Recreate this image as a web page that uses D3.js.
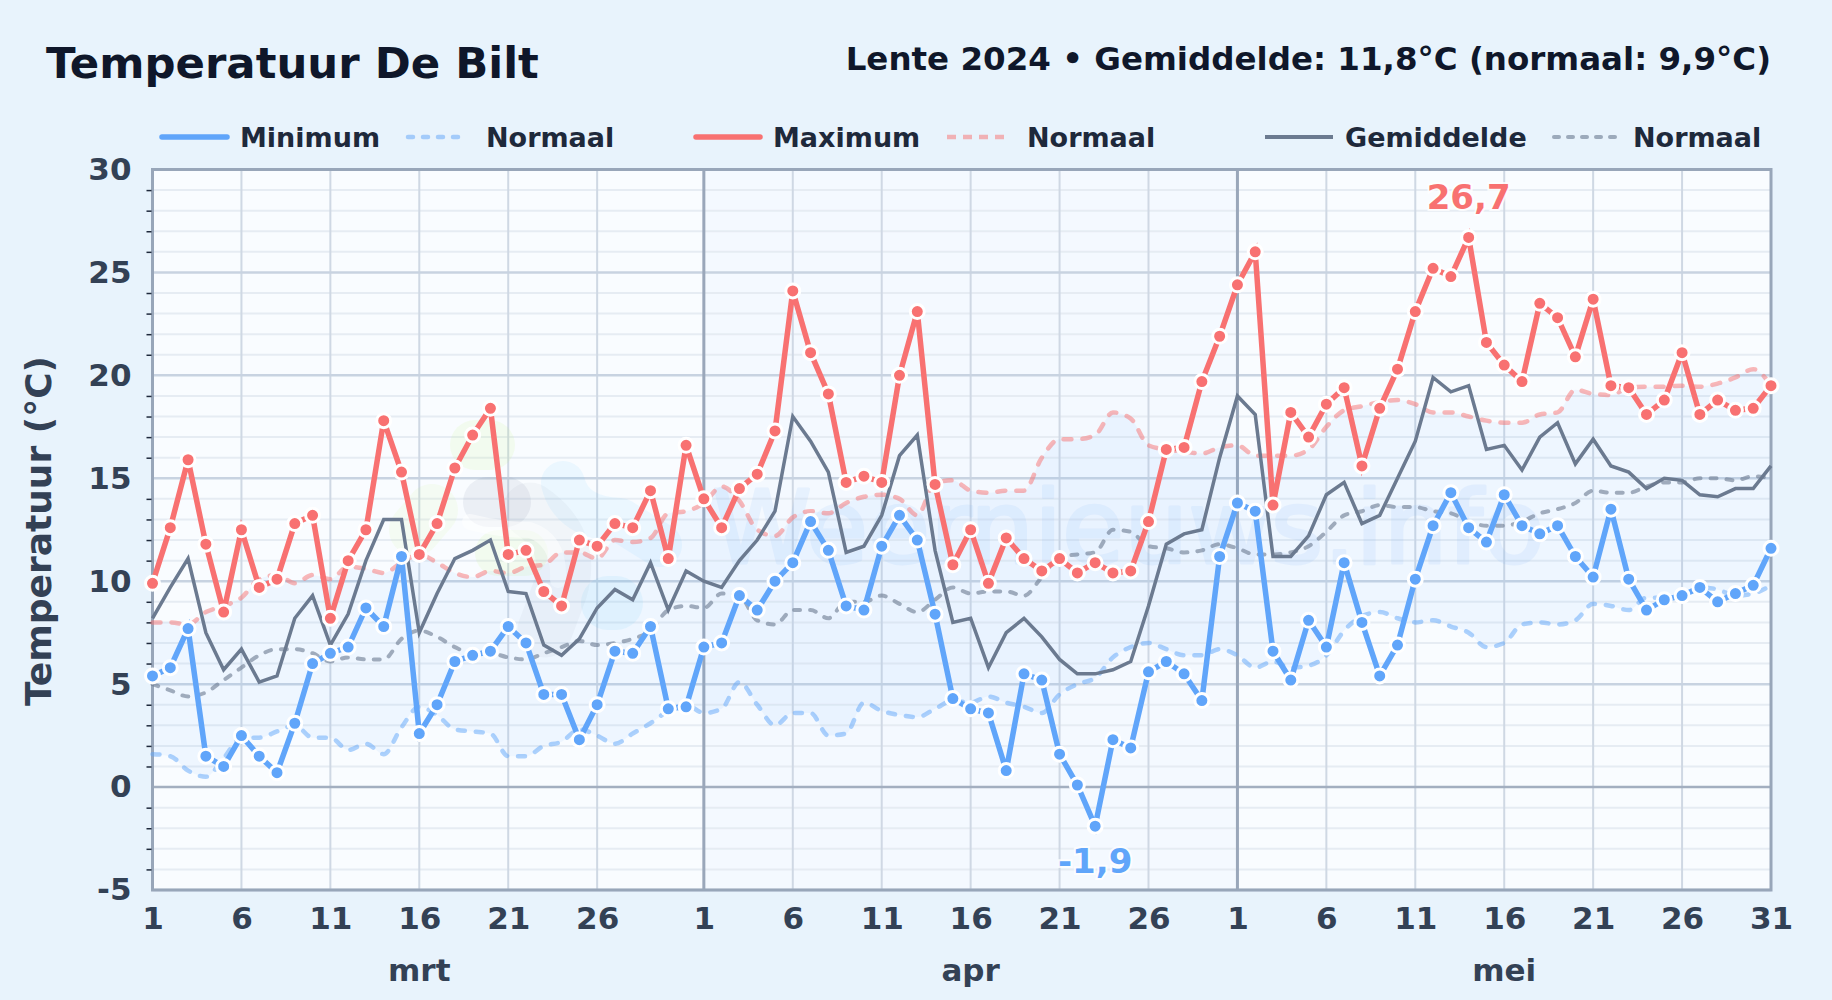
<!DOCTYPE html>
<html>
<head>
<meta charset="utf-8">
<script src="https://cdn.jsdelivr.net/npm/d3@7"></script>
<style>
  html, body { margin: 0; padding: 0; background: #e8f3fc; }
  svg { display: block; font-family: "DejaVu Sans", sans-serif; font-weight: 700; }
</style>
</head>
<body>
<svg id="chart" width="1832" height="1000"></svg>
<script>
// daily values 1 mrt - 31 mei 2024
const minTemp = [5.4,5.8,7.7,1.5,1.0,2.5,1.5,0.7,3.1,6.0,6.5,6.8,8.7,7.8,11.2,2.6,4.0,6.1,6.4,6.6,7.8,7.0,4.5,4.5,2.3,4.0,6.6,6.5,7.8,3.8,3.9,
  6.8,7.0,9.3,8.6,10.0,10.9,12.9,11.5,8.8,8.6,11.7,13.2,12.0,8.4,4.3,3.8,3.6,0.8,5.5,5.2,1.6,0.1,-1.9,2.3,1.9,5.6,6.1,5.5,4.2,11.2,
  13.8,13.4,6.6,5.2,8.1,6.8,10.9,8.0,5.4,6.9,10.1,12.7,14.3,12.6,11.9,14.2,12.7,12.3,12.7,11.2,10.2,13.5,10.1,8.6,9.1,9.3,9.7,9.0,9.4,9.8,11.6]
const maxTemp = [9.9,12.6,15.9,11.8,8.5,12.5,9.7,10.1,12.8,13.2,8.2,11.0,12.5,17.8,15.3,11.3,12.8,15.5,17.1,18.4,11.3,11.5,9.5,8.8,12.0,11.7,12.8,12.6,14.4,11.1,16.6,
  14.0,12.6,14.5,15.2,17.3,24.1,21.1,19.1,14.8,15.1,14.8,20.0,23.1,14.7,10.8,12.5,9.9,12.1,11.1,10.5,11.1,10.4,10.9,10.4,10.5,12.9,16.4,16.5,19.7,21.9,
  24.4,26.0,13.7,18.2,17.0,18.6,19.4,15.6,18.4,20.3,23.1,25.2,24.8,26.7,21.6,20.5,19.7,23.5,22.8,20.9,23.7,19.5,19.4,18.1,18.8,21.1,18.1,18.8,18.3,18.4,19.5]
const avgTemp = [8.2,9.7,11.1,7.5,5.7,6.7,5.1,5.4,8.2,9.3,6.9,8.4,11.0,13.0,13.0,7.5,9.4,11.1,11.5,12.0,9.5,9.4,6.9,6.4,7.2,8.7,9.6,9.1,10.9,8.6,10.5,
  10.0,9.7,11.0,12.0,13.4,18.0,16.8,15.3,11.4,11.7,13.2,16.1,17.1,11.5,8.0,8.2,5.8,7.5,8.2,7.3,6.2,5.5,5.5,5.7,6.1,8.8,11.8,12.3,12.5,16.0,
  19.0,18.1,11.2,11.2,12.2,14.2,14.8,12.8,13.2,15.0,16.8,19.9,19.2,19.5,16.4,16.6,15.4,17.0,17.7,15.7,16.9,15.6,15.3,14.5,15.0,14.9,14.2,14.1,14.5,14.5,15.6]
const normMin = [1.6,1.5,0.8,0.5,1.4,2.4,2.4,2.7,3.0,2.4,2.4,1.8,2.1,1.6,2.9,3.9,3.5,2.8,2.7,2.6,1.5,1.5,2.0,2.2,2.8,2.5,2.1,2.6,3.1,3.7,4.0,
  3.6,3.8,5.1,4.0,3.0,3.6,3.6,2.5,2.6,4.1,3.7,3.5,3.4,3.8,4.2,4.1,4.4,4.1,3.9,3.6,4.5,5.0,5.3,6.3,6.8,7.0,6.7,6.4,6.4,6.7,
  6.4,5.8,6.1,5.8,5.9,6.4,7.6,8.3,8.5,8.2,8.0,8.1,7.8,7.5,6.8,7.0,7.9,8.0,7.9,8.1,8.9,8.8,8.6,9.2,9.2,9.3,9.7,9.6,9.3,9.4,9.8]
const normMax = [8.0,8.0,7.9,8.5,8.8,9.2,10.1,10.3,9.9,10.3,10.1,10.7,10.6,10.4,10.9,11.3,10.9,10.4,10.2,10.5,10.4,10.7,10.8,11.4,11.4,11.1,12.0,11.9,12.1,13.3,13.4,
  13.8,14.6,13.9,12.5,12.2,13.1,13.4,13.3,13.8,14.1,14.2,14.0,13.2,14.8,14.9,14.4,14.3,14.4,14.4,16.0,16.9,16.9,17.1,18.2,17.9,16.6,16.4,16.3,16.2,16.5,
  16.6,16.1,16.1,16.1,16.4,17.5,18.3,18.5,18.7,18.8,18.6,18.2,18.2,18.0,17.8,17.7,17.7,18.1,18.2,19.3,19.1,19.05,19.4,19.45,19.45,19.5,19.45,19.6,19.9,20.3,19.5]
const normAvg = [5.0,4.7,4.4,4.6,5.2,5.8,6.4,6.7,6.7,6.5,6.1,6.3,6.2,6.2,7.2,7.6,7.3,6.8,6.5,6.5,6.3,6.2,6.5,6.8,7.1,6.9,7.0,7.2,7.6,8.6,8.8,
  8.7,9.4,9.3,8.1,7.9,8.6,8.6,8.2,9.0,9.0,9.3,8.9,8.5,9.1,9.7,9.4,9.5,9.5,9.3,10.2,11.2,11.3,11.4,12.5,12.4,11.7,11.6,11.4,11.5,11.8,
  11.6,11.3,11.3,11.4,11.7,12.4,13.2,13.4,13.7,13.6,13.6,13.4,13.3,12.9,12.7,12.7,12.9,13.3,13.5,13.8,14.4,14.3,14.3,14.6,14.8,14.8,15.0,15.0,14.9,15.1,15.0]

const monthNames = ["mrt", "apr", "mei"]
const dayTicks = [1, 6, 11, 16, 21, 26]
const tempTicks = [-5, 0, 5, 10, 15, 20, 25, 30]
const legendLabels = ["Minimum", "Normaal", "Maximum", "Normaal", "Gemiddelde", "Normaal"]
const titleText = "Temperatuur De Bilt"
const subtitleText = "Lente 2024 • Gemiddelde: 11,8°C (normaal: 9,9°C)"

const blue = "#60a5fa", red = "#f87171", slate = "#6b7a90"
const margin = {left: 152.5, right: 1771, top: 169.5, bottom: 890}
const svg = d3.select("#chart")

let days = d3.utcDays(new Date(Date.UTC(2024, 2, 1)), new Date(Date.UTC(2024, 5, 1)))
let x = d3.scaleUtc().domain([days[0], days[days.length - 1]]).range([margin.left, margin.right])
let y = d3.scaleLinear().domain([-5, 30]).range([margin.bottom, margin.top])
let monthStarts = d3.utcMonths(days[0], new Date(Date.UTC(2024, 5, 1)))

// plot background + april shading
svg.append("rect").attr("x", margin.left).attr("y", margin.top)
  .attr("width", margin.right - margin.left).attr("height", margin.bottom - margin.top)
  .attr("fill", "#f9fcff")
svg.append("rect").attr("x", x(monthStarts[1])).attr("y", margin.top)
  .attr("width", x(monthStarts[2]) - x(monthStarts[1])).attr("height", margin.bottom - margin.top)
  .attr("fill", "#60a5fa").attr("opacity", 0.03)

// minor + major grid
let minorVals = d3.range(-5, 31).filter(d => d % 5 !== 0)
svg.append("g").selectAll("line").data(minorVals).join("line")
  .attr("x1", margin.left).attr("x2", margin.right).attr("y1", d => y(d)).attr("y2", d => y(d))
  .attr("stroke", "#e6ecf3").attr("stroke-width", 2)
let xTicks = days.filter(d => dayTicks.includes(d.getUTCDate()))
svg.append("g").selectAll("line").data(xTicks).join("line")
  .attr("x1", d => x(d)).attr("x2", d => x(d)).attr("y1", margin.top).attr("y2", margin.bottom)
  .attr("stroke", "#cfd8e4").attr("stroke-width", 2)
svg.append("g").selectAll("line").data(tempTicks).join("line")
  .attr("x1", margin.left).attr("x2", margin.right).attr("y1", d => y(d)).attr("y2", d => y(d))
  .attr("stroke", d => d === 0 ? "#a3afc0" : "#c8d3e1").attr("stroke-width", 2.5)
svg.append("g").selectAll("line").data(monthStarts.slice(1)).join("line")
  .attr("x1", d => x(d)).attr("x2", d => x(d)).attr("y1", margin.top).attr("y2", margin.bottom)
  .attr("stroke", "#9aa7ba").attr("stroke-width", 3)

// watermark: logo blobs + site name
const wm = svg.append("g").attr("fill", "none").attr("stroke-linecap", "round").attr("stroke-linejoin", "round")
wm.append("path").attr("d", "M475 445 L490 445").attr("stroke", "#bef264").attr("stroke-width", 50).attr("opacity", 0.1)
wm.append("path").attr("d", "M415 530 L432 510").attr("stroke", "#bef264").attr("stroke-width", 52).attr("opacity", 0.08)
wm.append("path").attr("d", "M498 553 L525 553").attr("stroke", "#bef264").attr("stroke-width", 46).attr("opacity", 0.1)
wm.append("path").attr("d", "M488 502 L506 502").attr("stroke", "#64748b").attr("stroke-width", 50).attr("opacity", 0.09)
wm.append("path").attr("d", "M530 510 Q575 540 560 590 L545 630").attr("stroke", "#64748b").attr("stroke-width", 55).attr("opacity", 0.05)
wm.append("path").attr("d", "M470 522 Q500 530 530 530 Q560 540 558 580").attr("stroke", "#ffffff").attr("stroke-width", 16).attr("opacity", 0.5)
wm.append("path").attr("d", "M563 483 Q572 518 620 520 L660 545").attr("stroke", "#38bdf8").attr("stroke-width", 44).attr("opacity", 0.07)
wm.append("path").attr("d", "M608 603 L616 603").attr("stroke", "#38bdf8").attr("stroke-width", 54).attr("opacity", 0.08)
wm.append("text").attr("x", 712).attr("y", 563).attr("font-size", 101).attr("font-weight", 400)
  .attr("fill", "#60a5fa").attr("stroke", "#60a5fa").attr("stroke-width", 3).attr("opacity", 0.09).text("Weernieuws.info")

// band between the normals
let band = d3.area().x((d, i) => x(days[i])).y0(d => y(d)).y1((d, i) => y(normMax[i])).curve(d3.curveMonotoneX)
svg.append("path").datum(normMin).attr("d", band).attr("fill", "#60a5fa").attr("opacity", 0.07)

// frame
svg.append("rect").attr("x", margin.left).attr("y", margin.top)
  .attr("width", margin.right - margin.left).attr("height", margin.bottom - margin.top)
  .attr("fill", "none").attr("stroke", "#98a6b9").attr("stroke-width", 3)

// axes
let yAxis = d3.axisLeft(y).tickValues(tempTicks).tickSize(0).tickPadding(21).tickFormat(d => String(d))
let gy = svg.append("g").attr("transform", `translate(${margin.left},0)`).call(yAxis)
gy.select(".domain").remove()
gy.selectAll("text").attr("font-size", 31).attr("font-family", "DejaVu Sans").attr("font-weight", 700).attr("fill", "#334155")
let yMinor = d3.axisLeft(y).tickValues(minorVals).tickSize(5).tickFormat("")
let gm = svg.append("g").attr("transform", `translate(${margin.left - 1},0)`).call(yMinor)
gm.select(".domain").remove()
gm.selectAll("line").attr("stroke", "#1e293b").attr("stroke-width", 1.5)

let xTickVals = xTicks.concat([days[days.length - 1]])
let xAxis = d3.axisBottom(x).tickValues(xTickVals).tickSize(0).tickPadding(17).tickFormat(d => d.getUTCDate())
let gx = svg.append("g").attr("transform", `translate(0,${margin.bottom})`).call(xAxis)
gx.select(".domain").remove()
gx.selectAll("text").attr("font-size", 31).attr("font-family", "DejaVu Sans").attr("font-weight", 700).attr("fill", "#334155")

svg.append("g").selectAll("text").data(monthNames).join("text")
  .attr("x", (d, i) => x(new Date(Date.UTC(2024, 2 + i, 16)))).attr("y", 981)
  .attr("text-anchor", "middle").attr("font-size", 31).attr("fill", "#334155").text(d => d)

svg.append("text").attr("transform", "translate(51,531) rotate(-90)").attr("text-anchor", "middle")
  .attr("font-size", 36).attr("fill", "#334155").text("Temperatuur (°C)")

// lines
let smooth = d3.line().x((d, i) => x(days[i])).y(d => y(d)).curve(d3.curveMonotoneX)
let straight = d3.line().x((d, i) => x(days[i])).y(d => y(d))
svg.append("path").datum(normMin).attr("d", smooth).attr("fill", "none").attr("stroke", blue).attr("opacity", 0.5)
  .attr("stroke-width", 4.5).attr("stroke-dasharray", "7,11").attr("stroke-linecap", "round")
svg.append("path").datum(normMax).attr("d", smooth).attr("fill", "none").attr("stroke", red).attr("opacity", 0.5)
  .attr("stroke-width", 4.5).attr("stroke-dasharray", "8,11").attr("stroke-linecap", "round")
svg.append("path").datum(normAvg).attr("d", smooth).attr("fill", "none").attr("stroke", slate).attr("opacity", 0.6)
  .attr("stroke-width", 4).attr("stroke-dasharray", "6,10").attr("stroke-linecap", "round")
svg.append("path").datum(avgTemp).attr("d", straight).attr("fill", "none").attr("stroke", slate).attr("stroke-width", 3.5)
svg.append("path").datum(minTemp).attr("d", straight).attr("fill", "none").attr("stroke", blue).attr("stroke-width", 5.5)
svg.append("path").datum(maxTemp).attr("d", straight).attr("fill", "none").attr("stroke", red).attr("stroke-width", 5.5)

// points
svg.append("g").selectAll("circle").data(minTemp).join("circle")
  .attr("cx", (d, i) => x(days[i])).attr("cy", d => y(d)).attr("r", 7)
  .attr("fill", blue).attr("stroke", "#fff").attr("stroke-width", 3)
svg.append("g").selectAll("circle").data(maxTemp).join("circle")
  .attr("cx", (d, i) => x(days[i])).attr("cy", d => y(d)).attr("r", 7)
  .attr("fill", red).attr("stroke", "#fff").attr("stroke-width", 3)

// extremes
let hiIdx = d3.maxIndex(maxTemp), loIdx = d3.minIndex(minTemp)
const fmt = v => String(v).replace(".", ",")
svg.append("text").attr("x", x(days[hiIdx])).attr("y", y(maxTemp[hiIdx]) - 28).attr("text-anchor", "middle")
  .attr("font-size", 34).attr("fill", red).attr("stroke", "#fff").attr("stroke-width", 4).attr("paint-order", "stroke")
  .attr("stroke-opacity", 0.8).text(fmt(maxTemp[hiIdx]))
svg.append("text").attr("x", x(days[loIdx])).attr("y", y(minTemp[loIdx]) + 47).attr("text-anchor", "middle")
  .attr("font-size", 34).attr("fill", blue).attr("stroke", "#fff").attr("stroke-width", 4).attr("paint-order", "stroke")
  .attr("stroke-opacity", 0.8).text(fmt(minTemp[loIdx]))

// titles
svg.append("text").attr("x", 46).attr("y", 78).attr("font-size", 43.4).attr("fill", "#0f172a").text(titleText)
svg.append("text").attr("x", 1771).attr("y", 70).attr("text-anchor", "end").attr("font-size", 32.5).attr("fill", "#0f172a").text(subtitleText)

// legend
const legendLine = [
  {x1: 162, x2: 227, stroke: blue, w: 5.5, dash: null, cap: "round", op: 1, tx: 240},
  {x1: 408, x2: 464, stroke: blue, w: 4.5, dash: "5,10", cap: "round", op: 0.5, tx: 486},
  {x1: 696, x2: 760, stroke: red, w: 5.5, dash: null, cap: "round", op: 1, tx: 773},
  {x1: 947, x2: 1005, stroke: red, w: 4.5, dash: "9,7", cap: "butt", op: 0.5, tx: 1027},
  {x1: 1265, x2: 1333, stroke: slate, w: 4, dash: null, cap: "butt", op: 1, tx: 1345},
  {x1: 1554, x2: 1618, stroke: slate, w: 4, dash: "5,9", cap: "round", op: 0.6, tx: 1633}
]
let lg = svg.append("g").selectAll("g").data(legendLine).join("g")
lg.append("line").attr("x1", d => d.x1).attr("x2", d => d.x2).attr("y1", 137).attr("y2", 137)
  .attr("stroke", d => d.stroke).attr("stroke-width", d => d.w).attr("stroke-linecap", d => d.cap)
  .attr("stroke-dasharray", d => d.dash).attr("opacity", d => d.op)
lg.append("text").attr("x", d => d.tx).attr("y", 147).attr("font-size", 27).attr("fill", "#1e293b")
  .text((d, i) => legendLabels[i])
</script>
</body>
</html>
